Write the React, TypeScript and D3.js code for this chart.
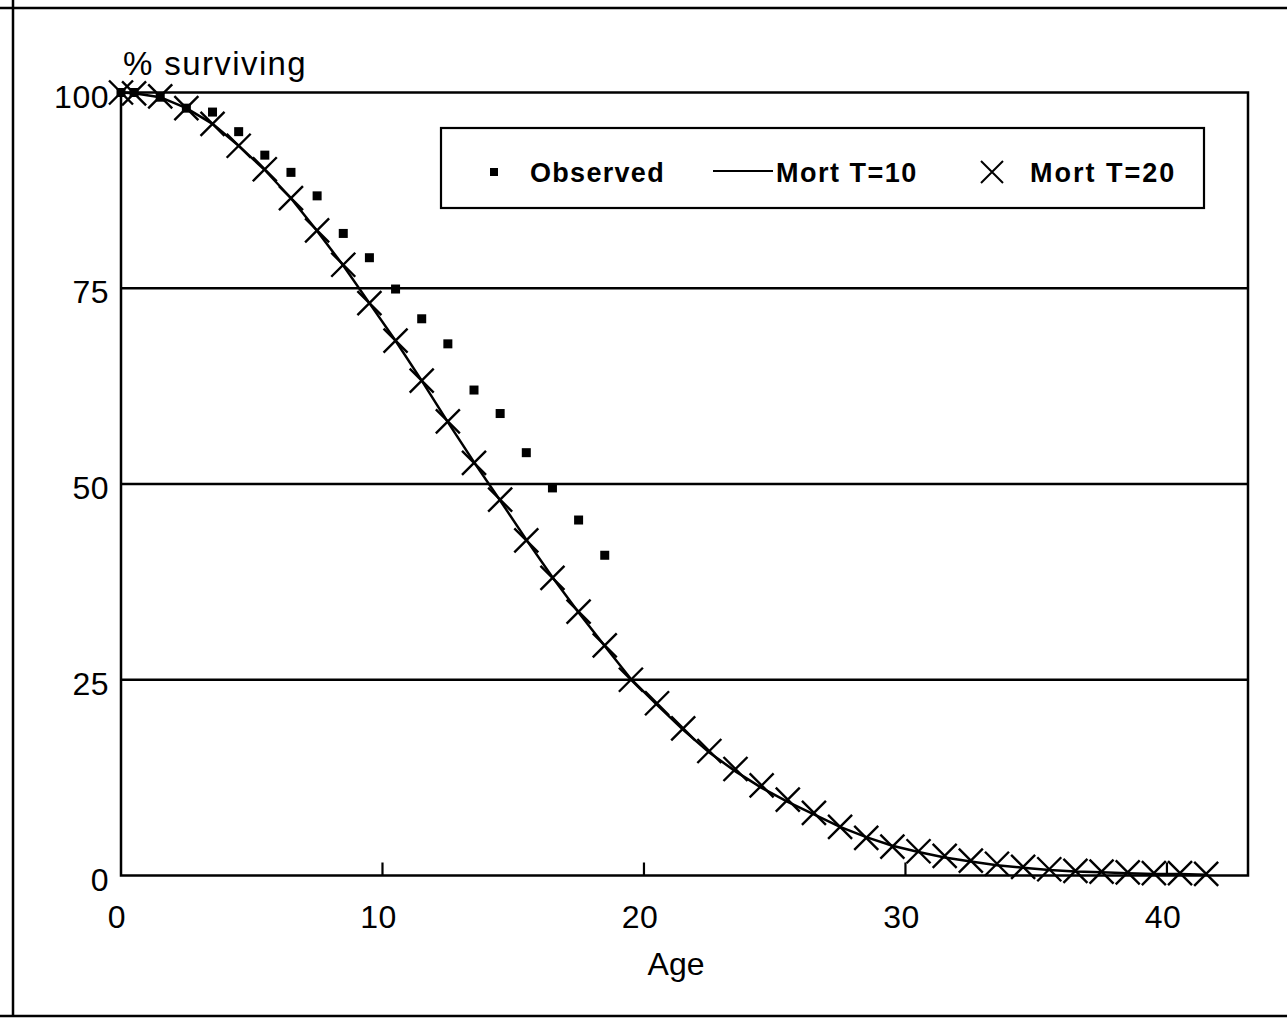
import React from "react";
import * as d3 from "d3";

const ages = [0, 0.5, 1.5, 2.5, 3.5, 4.5, 5.5, 6.5, 7.5, 8.5, 9.5, 10.5, 11.5, 12.5, 13.5, 14.5, 15.5, 16.5, 17.5, 18.5, 19.5, 20.5, 21.5, 22.5, 23.5, 24.5, 25.5, 26.5, 27.5, 28.5, 29.5, 30.5, 31.5, 32.5, 33.5, 34.5, 35.5, 36.5, 37.5, 38.5, 39.5, 40.5, 41.5];

const observed = [100, 100, 99.4, 98.0, 97.5, 95.0, 92.0, 89.8, 86.8, 82.0, 78.9, 74.9, 71.1, 67.9, 62.0, 59.0, 54.0, 49.5, 45.4, 40.9];

const mortT10 = [100, 99.9, 99.4, 98.0, 96.0, 93.2, 90.1, 86.5, 82.3, 77.9, 73.1, 68.3, 63.2, 57.9, 52.8, 47.9, 42.9, 38.1, 33.6, 29.3, 25.1, 21.8, 18.6, 15.7, 13.3, 11.2, 9.4, 7.8, 6.2, 4.9, 3.8, 3.0, 2.3, 1.8, 1.3, 1.0, 0.7, 0.5, 0.4, 0.3, 0.2, 0.2, 0.1];

const mortT20 = [100, 99.9, 99.5, 98.0, 96.0, 93.2, 90.2, 86.5, 82.4, 78.0, 73.1, 68.3, 63.2, 58.0, 52.7, 48.0, 42.8, 38.0, 33.7, 29.4, 25.0, 22.0, 18.8, 15.9, 13.6, 11.5, 9.7, 8.0, 6.2, 4.8, 3.7, 3.1, 2.5, 1.9, 1.5, 1.1, 0.8, 0.6, 0.5, 0.4, 0.3, 0.3, 0.2];

const xTicks = [0, 10, 20, 30, 40];
const yTicks = [0, 25, 50, 75, 100];
const yLabel = "% surviving";
const xLabel = "Age";
const legendNames = ["Observed", "Mort T=10", "Mort T=20"];

const FONT = "'Liberation Sans', Arial, Helvetica, sans-serif";

export default function App() {
  const W = 1287, H = 1019;
  const left = 121, right = 1248, top = 92.5, bottom = 875.5;
  const x = d3.scaleLinear().domain([0, 43.1]).range([left, right]);
  const y = d3.scaleLinear().domain([0, 100]).range([bottom, top]);

  const line = d3.line<number>()
    .x((_, i) => x(ages[i]))
    .y((d) => y(d));

  const xs = 12;
  const sq = 9;

  return (
    <svg width={W} height={H} style={{ position: "absolute", left: 0, top: 0, background: "#fff" }}>
      <rect x={0} y={0} width={W} height={H} fill="#fff" />
      {/* outer frame */}
      <line x1={13} y1={0} x2={13} y2={1016} stroke="#000" strokeWidth={2.5} />
      <line x1={0} y1={8} x2={W} y2={8} stroke="#000" strokeWidth={2.5} />
      <line x1={0} y1={1016} x2={W} y2={1016} stroke="#000" strokeWidth={2.5} />

      {/* grid lines */}
      {yTicks.filter((t) => t > 0 && t < 100).map((t) => (
        <line key={t} x1={left} x2={right} y1={y(t)} y2={y(t)} stroke="#000" strokeWidth={2.5} />
      ))}
      {/* plot frame */}
      <rect x={left} y={top} width={right - left} height={bottom - top} fill="none" stroke="#000" strokeWidth={2.5} />

      {/* x ticks */}
      {xTicks.filter((t) => t > 0).map((t) => (
        <line key={t} x1={x(t)} x2={x(t)} y1={bottom} y2={bottom - 13} stroke="#000" strokeWidth={2.2} />
      ))}

      {/* y tick labels */}
      {yTicks.map((t) => (
        <text key={t} x={109} y={y(t) + 15} textAnchor="end" fontFamily={FONT} fontSize={32} letterSpacing={0.5} fill="#000">{t}</text>
      ))}
      {/* x tick labels */}
      {xTicks.map((t) => (
        <text key={t} x={x(t) - 4} y={928} textAnchor="middle" fontFamily={FONT} fontSize={32} letterSpacing={0.5} fill="#000">{t}</text>
      ))}

      <text x={123} y={75} fontFamily={FONT} fontSize={33} letterSpacing={1.4} fill="#000">{yLabel}</text>
      <text x={676} y={975} textAnchor="middle" fontFamily={FONT} fontSize={32} fill="#000">{xLabel}</text>

      {/* Mort T=10 line */}
      <path d={line(mortT10) || ""} fill="none" stroke="#000" strokeWidth={2.5} />

      {/* Mort T=20 X markers */}
      {mortT20.map((v, i) => (
        <path key={i} d={`M${x(ages[i]) - xs},${y(v) - xs}L${x(ages[i]) + xs},${y(v) + xs}M${x(ages[i]) - xs},${y(v) + xs}L${x(ages[i]) + xs},${y(v) - xs}`} stroke="#000" strokeWidth={2.4} fill="none" />
      ))}

      {/* Observed squares */}
      {observed.map((v, i) => (
        <rect key={i} x={x(ages[i]) - sq / 2} y={y(v) - sq / 2} width={sq} height={sq} fill="#000" />
      ))}

      {/* legend */}
      <rect x={441} y={128} width={763} height={80} fill="#fff" stroke="#000" strokeWidth={2.2} />
      <rect x={490} y={168} width={8} height={8} fill="#000" />
      <text x={530} y={182} fontFamily={FONT} fontWeight="bold" fontSize={27} letterSpacing={1.3} fill="#000">{legendNames[0]}</text>
      <line x1={713} x2={773} y1={171} y2={171} stroke="#000" strokeWidth={2} />
      <text x={776} y={182} fontFamily={FONT} fontWeight="bold" fontSize={27} letterSpacing={1.5} fill="#000">{legendNames[1]}</text>
      <path d="M981,161L1003,183M981,183L1003,161" stroke="#000" strokeWidth={2} fill="none" />
      <text x={1030} y={182} fontFamily={FONT} fontWeight="bold" fontSize={27} letterSpacing={2} fill="#000">{legendNames[2]}</text>
    </svg>
  );
}
